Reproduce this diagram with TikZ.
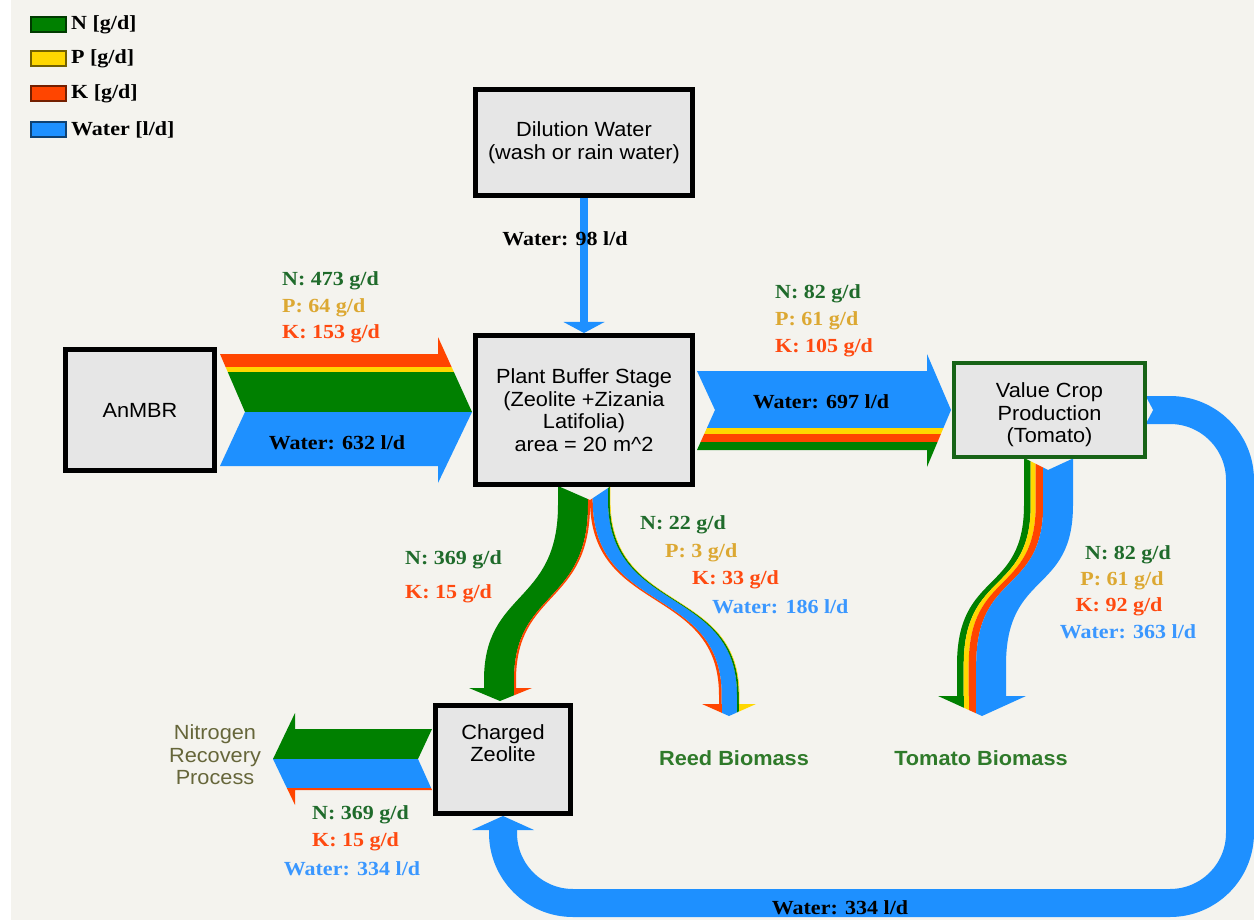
\documentclass[tikz,border=0pt]{standalone}
\usepackage{fontspec}
\setmainfont{Liberation Serif}
\setsansfont{Liberation Sans}[FakeStretch=1.06]
\newfontfamily\flowfont{Liberation Serif}[FakeStretch=1.1]
\usetikzlibrary{arrows.meta, backgrounds}

\definecolor{bg}{HTML}{F4F3EE}
\definecolor{boxgray}{HTML}{E6E6E6}
\definecolor{nGreen}{HTML}{008000}
\definecolor{pYellow}{HTML}{FFD700}
\definecolor{kOrange}{HTML}{FF4500}
\definecolor{wBlue}{HTML}{1E90FF}
\definecolor{nText}{HTML}{1F6B2B}
\definecolor{pText}{HTML}{DCA832}
\definecolor{kText}{HTML}{FF4A10}
\definecolor{wText}{HTML}{3A97FF}
\definecolor{cropGreen}{HTML}{176317}
\definecolor{bioGreen}{HTML}{2F7A2A}
\definecolor{olive}{HTML}{66663A}

\tikzset{
  box/.style={draw=black, line width=5, fill=boxgray, align=center, inner sep=2,
    font=\sffamily\fontsize{20.5}{22.5}\selectfont},
  flowlbl/.style={font=\flowfont\bfseries\fontsize{20}{22}\selectfont, inner sep=0},
  biolbl/.style={font=\sffamily\bfseries\fontsize{20.5}{22.5}\selectfont, text=bioGreen, inner sep=0},
}

\begin{document}
\begin{tikzpicture}[x=1pt, y=-1pt]
\useasboundingbox (0,0) rectangle (1254,920);
\begin{pgfonlayer}{background}
  \fill[white] (0,0) rectangle (1254,920);
  \fill[bg] (11,0) rectangle (1254,920);
\end{pgfonlayer}

% Legend
\foreach \y/\c/\t in {17/nGreen/{N [g/d]}, 51/pYellow/{P [g/d]}, 86/kOrange/{K [g/d]}, 122/wBlue/{Water [l/d]}} {
  \draw[draw=\c!45!black, fill=\c, line width=1.5] (31,\y) rectangle (66,\y+15);
  \node[flowlbl, anchor=west] (leg\c) at (71,\y+7.5) {\t};
}

% AnMBR to plant buffer
\begin{scope}
  \clip (220,354) -- (438,354) -- (438,337) -- (472,412) -- (438,483) -- (438,466) -- (220,466) -- (245,412) -- cycle;
  \foreach \a/\b/\c in {330/367/kOrange, 367/372/pYellow, 372/412/nGreen, 412/490/wBlue}
    \fill[\c] (210,\a) rectangle (480,\b);
\end{scope}

% Plant buffer to value crop
\begin{scope}
  \clip (697,371) -- (927,371) -- (927,354) -- (951,410) -- (927,467) -- (927,450) -- (697,450) -- (715,410) -- cycle;
  \foreach \a/\b/\c in {340/428/wBlue, 428/434/pYellow, 434/442/kOrange, 442/480/nGreen}
    \fill[\c] (690,\a) rectangle (960,\b);
\end{scope}

% Plant buffer to charged zeolite
\begin{scope}
  \clip (440,486) -- (558,486) -- (590,500) -- (640,500) -- (640,730) -- (440,730) -- cycle;
  \foreach \a/\b/\c in {0/30/nGreen, 30/32/kOrange}
    \fill[\c] (558+\a,486) -- (558+\a,505) .. controls (558+\a,605) and (484+\a,590) .. (484+\a,680) -- (484+\a,689)
      -- (484+\b,689) -- (484+\b,680) .. controls (484+\b,590) and (558+\b,605) .. (558+\b,505) -- (558+\b,486) -- cycle;
\end{scope}
\begin{scope}
  \clip (469,688) -- (532,688) -- (500,701) -- cycle;
  \fill[nGreen] (460,685) rectangle (514,705);
  \fill[kOrange] (514,685) rectangle (540,705);
\end{scope}

% Plant buffer to reed biomass
\begin{scope}
  \clip (560,500) -- (590,500) -- (611,486) -- (800,486) -- (800,730) -- (560,730) -- cycle;
  \foreach \a/\b/\c in {0/2.7/kOrange, 2.7/18/wBlue, 18/19.8/nGreen, 19.8/20.4/pYellow}
    \fill[\c] (590+\a,486) -- (590+\a,500) .. controls (590+\a,615) and (719+\a,585) .. (719+\a,695) -- (719+\a,705)
      -- (719+\b,705) -- (719+\b,695) .. controls (719+\b,585) and (590+\b,615) .. (590+\b,500) -- (590+\b,486) -- cycle;
\end{scope}
\begin{scope}
  \clip (702,704) -- (756,704) -- (729,716) -- cycle;
  \foreach \a/\b/\c in {695/721.7/kOrange, 721.7/737/wBlue, 737/738.8/nGreen, 738.8/765/pYellow}
    \fill[\c] (\a,700) rectangle (\b,720);
\end{scope}

% Value crop to tomato biomass
\begin{scope}
  \clip (920,458) -- (1024,458) -- (1048,470) -- (1074,458) -- (1100,458) -- (1100,730) -- (920,730) -- cycle;
  \foreach \a/\b/\c in {0/6.7/nGreen, 6.7/11.7/pYellow, 11.7/19.2/kOrange, 19.2/49/wBlue}
    \fill[\c] (1024+\a,458) -- (1024+\a,505) .. controls (1024+\a,595) and (957+\a,570) .. (957+\a,665) -- (957+\a,697)
      -- (957+\b,697) -- (957+\b,665) .. controls (957+\b,570) and (1024+\b,595) .. (1024+\b,505) -- (1024+\b,458) -- cycle;
\end{scope}
\begin{scope}
  \clip (938,696) -- (1026,696) -- (982,716) -- cycle;
  \foreach \a/\b/\c in {930/963.7/nGreen, 963.7/968.7/pYellow, 968.7/976.2/kOrange, 976.2/1035/wBlue}
    \fill[\c] (\a,690) rectangle (\b,720);
\end{scope}

% Charged zeolite to nitrogen recovery
\begin{scope}
  \clip (432,729) -- (295,729) -- (295,713) -- (273,759) -- (295,805) -- (295,790) -- (432,790) -- (418,759) -- cycle;
  \foreach \a/\b/\c in {700/759/nGreen, 759/788/wBlue, 788/810/kOrange}
    \fill[\c] (265,\a) rectangle (440,\b);
\end{scope}

% Boxes
\node[box, minimum width=149, minimum height=121] (anmbr) at (140,410) {AnMBR};
\node[box, minimum width=217, minimum height=106] (dil) at (584,142.5) {Dilution Water\\(wash or rain water)};
\node[box, minimum width=217, minimum height=149] (plant) at (584,410) {Plant Buffer Stage\\(Zeolite +Zizania\\Latifolia)\\area = 20 m\textasciicircum 2};
\node[box, draw=cropGreen, line width=4, minimum width=191, minimum height=94] (crop) at (1049.5,410) {\rule{0pt}{25pt}Value Crop\\Production\\(Tomato)};
\node[box, minimum width=135, minimum height=108] (zeo) at (503,759.5) {Charged\\Zeolite\\[10pt]\mbox{}};

% Water return loop and dilution water
\begin{pgfonlayer}{background}
  \draw[wBlue, line width=28, rounded corners=70, -{Triangle[width=62pt, length=14pt, line width=0pt]}]
    (crop.east) -| (1240,903) -| (zeo.south);
  \fill[bg] (1145,395) -- (1153,410) -- (1145,425) -- cycle;
  \draw[wBlue, line width=8, -{Triangle[width=41pt, length=11pt, line width=0pt]}] (dil.south) -- (plant.north);
\end{pgfonlayer}

% Flow labels
\node[flowlbl, text=nText, anchor=west] (n1) at (282,281) {N: 473 g/d};
\node[flowlbl, text=pText, anchor=west] (p1) at (282,308) {P: 64 g/d};
\node[flowlbl, text=kText, anchor=west] (k1) at (282,334) {K: 153 g/d};
\node[flowlbl] (w1) at (337,443) {Water: 632 l/d};
\node[flowlbl] (w0) at (565,239) {Water: 98 l/d};

\node[flowlbl, text=nText, anchor=west] (n2) at (775,294) {N: 82 g/d};
\node[flowlbl, text=pText, anchor=west] (p2) at (775,321) {P: 61 g/d};
\node[flowlbl, text=kText, anchor=west] (k2) at (775,348) {K: 105 g/d};
\node[flowlbl] (w2) at (821,402) {Water: 697 l/d};

\node[flowlbl, text=nText, anchor=west] (n3) at (405,560) {N: 369 g/d};
\node[flowlbl, text=kText, anchor=west] (k3) at (405,594) {K: 15 g/d};

\node[flowlbl, text=nText, anchor=west] (n4) at (640,525) {N: 22 g/d};
\node[flowlbl, text=pText, anchor=west] (p4) at (665,553) {P: 3 g/d};
\node[flowlbl, text=kText, anchor=west] (k4) at (692,580) {K: 33 g/d};
\node[flowlbl, text=wText, anchor=west] (w4) at (712,607) {Water: 186 l/d};

\node[flowlbl, text=nText] (n5) at (1128,555) {N: 82 g/d};
\node[flowlbl, text=pText] (p5) at (1122,581) {P: 61 g/d};
\node[flowlbl, text=kText] (k5) at (1119,607) {K: 92 g/d};
\node[flowlbl, text=wText] (w5) at (1128,632) {Water: 363 l/d};

\node[flowlbl, text=nText, anchor=west] (n6) at (312,815) {N: 369 g/d};
\node[flowlbl, text=kText, anchor=west] (k6) at (312,842) {K: 15 g/d};
\node[flowlbl, text=wText] (w6) at (352,869) {Water: 334 l/d};
\node[flowlbl] (w7) at (840,908) {Water: 334 l/d};

% Sinks
\node[biolbl] (reed) at (734,758) {Reed Biomass};
\node[biolbl] (tomato) at (981,758) {Tomato Biomass};
\node[align=center, text=olive, inner sep=0, font=\sffamily\fontsize{20.5}{22.5}\selectfont] (nrec) at (215,755) {Nitrogen\\Recovery\\Process};
\end{tikzpicture}
\end{document}
